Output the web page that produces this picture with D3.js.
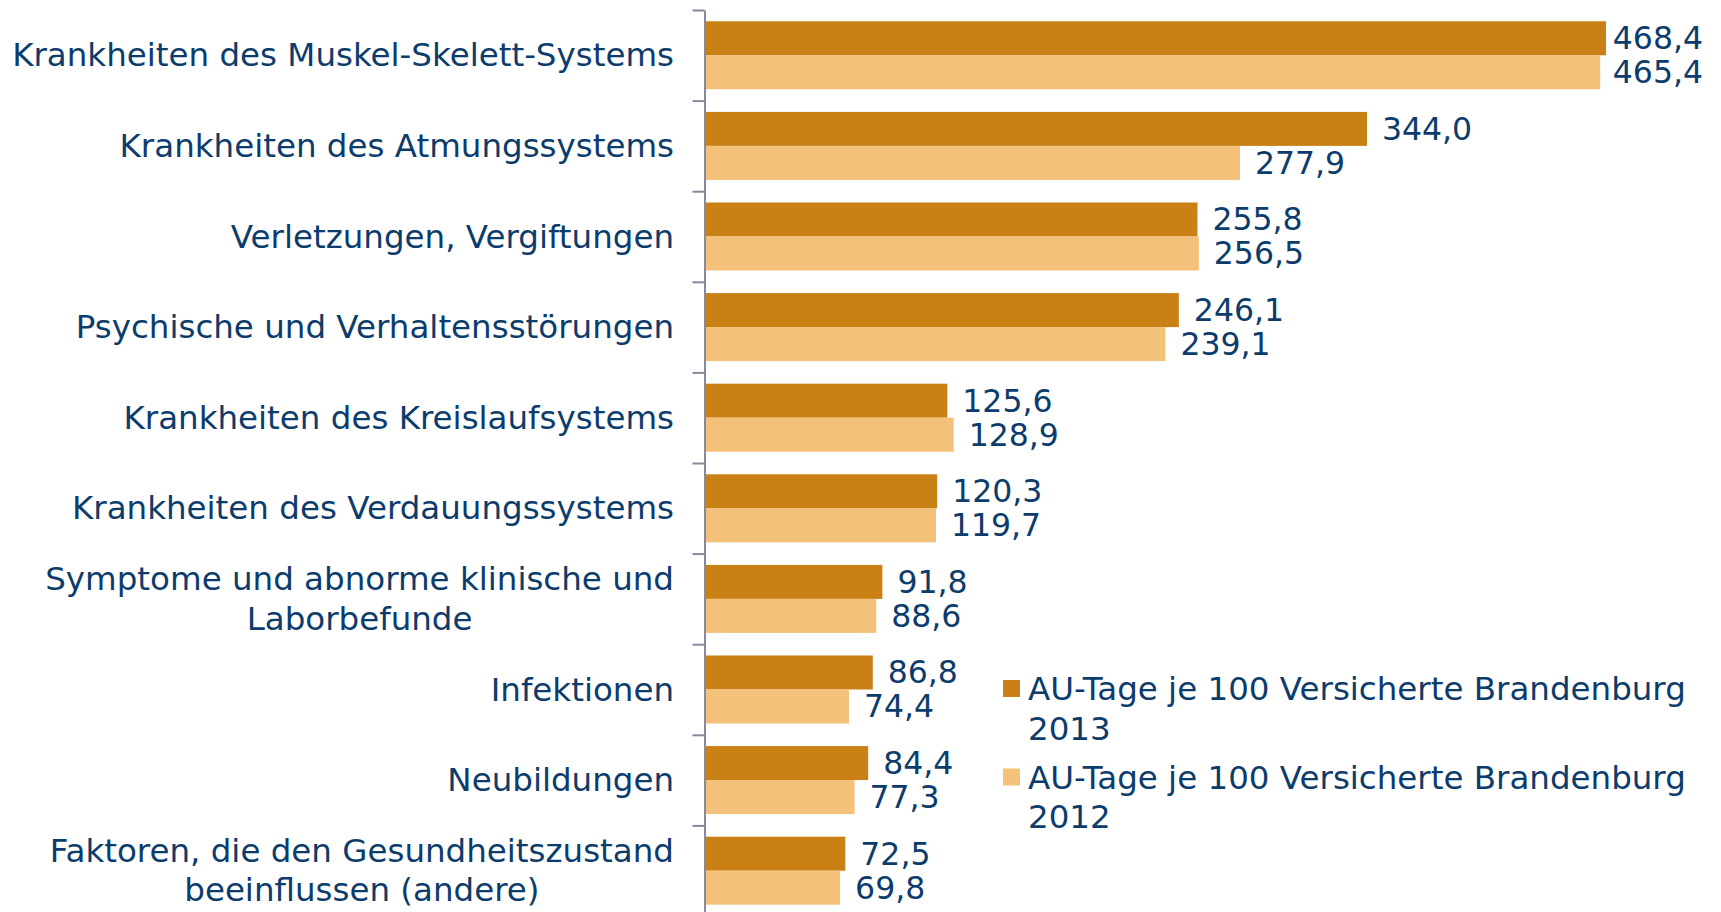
<!DOCTYPE html>
<html>
<head>
<meta charset="utf-8">
<script src="https://cdn.jsdelivr.net/npm/d3@7"></script>
<style>
  body { margin: 0; background: #fff; }
  svg { display: block; font-family: "DejaVu Sans", Verdana, sans-serif; }
</style>
</head>
<body>
<svg id="chart" width="1721" height="912"></svg>
<script>
const categories = [
  "Krankheiten des Muskel-Skelett-Systems",
  "Krankheiten des Atmungssystems",
  "Verletzungen, Vergiftungen",
  "Psychische und Verhaltensstörungen",
  "Krankheiten des Kreislaufsystems",
  "Krankheiten des Verdauungssystems",
  "Symptome und abnorme klinische und\nLaborbefunde",
  "Infektionen",
  "Neubildungen",
  "Faktoren, die den Gesundheitszustand\nbeeinflussen (andere)"
];
const values2013 = [468.4, 344.0, 255.8, 246.1, 125.6, 120.3, 91.8, 86.8, 84.4, 72.5];
const values2012 = [465.4, 277.9, 256.5, 239.1, 128.9, 119.7, 88.6, 74.4, 77.3, 69.8];
const seriesNames = [
  "AU-Tage je 100 Versicherte Brandenburg\n2013",
  "AU-Tage je 100 Versicherte Brandenburg\n2012"
];
const seriesKeys = ["y2013", "y2012"];

const colors = { y2013: "#c98014", y2012: "#f3c179" };
const textColor = "#0c3c6c";
const axisColor = "#878a9c";

const data = categories.map((c, i) => ({ cat: c, y2013: values2013[i], y2012: values2012[i] }));

const svg = d3.select("#chart");

// scales
const x = d3.scaleLinear().domain([0, 500]).range([706, 706 + 500 * 1.9214]);
const y = d3.scaleBand().domain(categories).range([10, 916]).padding(0);
const ySub = d3.scaleBand().domain(seriesKeys).range([0, y.bandwidth()])
  .paddingInner(0).paddingOuter(0.332);

// axis with ticks on category boundaries
const yEdge = d3.scaleLinear().domain([0, categories.length]).range([10, 916]);
const axis = svg.append("g")
  .attr("transform", "translate(704.5,0)")
  .call(d3.axisLeft(yEdge).ticks(categories.length).tickSize(12).tickSizeOuter(0).tickFormat(""));
axis.select(".domain").attr("stroke", axisColor).attr("stroke-width", 2);
axis.selectAll(".tick line").attr("stroke", axisColor).attr("stroke-width", 2);

// bars
const groups = svg.append("g").selectAll("g")
  .data(data)
  .enter()
  .append("g")
  .attr("transform", d => `translate(0,${y(d.cat)})`);

groups.selectAll("rect")
  .data(d => seriesKeys.map(k => ({ key: k, value: d[k] })))
  .enter()
  .append("rect")
  .attr("x", x(0))
  .attr("y", d => ySub(d.key))
  .attr("width", d => x(d.value) - x(0))
  .attr("height", ySub.bandwidth())
  .attr("fill", d => colors[d.key]);

// value labels
const fmt = v => d3.format(".1f")(v).replace(".", ",");
const rightLimit = 1703;
groups.selectAll("text")
  .data(d => seriesKeys.map(k => ({ key: k, value: d[k] })))
  .enter()
  .append("text")
  .attr("y", d => ySub(d.key) + ySub.bandwidth() / 2)
  .attr("dominant-baseline", "central")
  .attr("fill", textColor)
  .style("font-size", "31.5px")
  .text(d => fmt(d.value))
  .each(function (d) {
    const w = this.getComputedTextLength();
    const xx = Math.min(x(d.value) + 15, rightLimit - w);
    d3.select(this).attr("x", xx);
  });

// category labels (lines centred, block right-aligned)
const labelRight = 674;
const lineH = 39.5;
svg.append("g").selectAll("text")
  .data(categories)
  .enter()
  .append("text")
  .attr("text-anchor", "middle")
  .attr("fill", textColor)
  .style("font-size", "32.5px")
  .each(function (c) {
    const lines = c.split("\n");
    const cy = y(c) + y.bandwidth() / 2;
    const t = d3.select(this);
    lines.forEach((ln, i) => {
      t.append("tspan")
        .attr("x", 0)
        .attr("y", cy + (i - (lines.length - 1) / 2) * lineH)
        .attr("dominant-baseline", "central")
        .text(ln);
    });
    const w = this.getBBox().width;
    t.selectAll("tspan").attr("x", labelRight - w / 2);
  });

// legend
const legend = svg.append("g").selectAll("g")
  .data(seriesKeys)
  .enter()
  .append("g")
  .attr("transform", (d, i) => `translate(1003,${680 + i * 88.5})`);

legend.append("rect")
  .attr("width", 17)
  .attr("height", 17)
  .attr("fill", d => colors[d]);

legend.append("text")
  .attr("fill", textColor)
  .style("font-size", "32.5px")
  .each(function (d, i) {
    const t = d3.select(this);
    seriesNames[i].split("\n").forEach((ln, j) => {
      t.append("tspan")
        .attr("x", 25)
        .attr("y", 9 + j * lineH)
        .attr("dominant-baseline", "central")
        .text(ln);
    });
  });
</script>
</body>
</html>
